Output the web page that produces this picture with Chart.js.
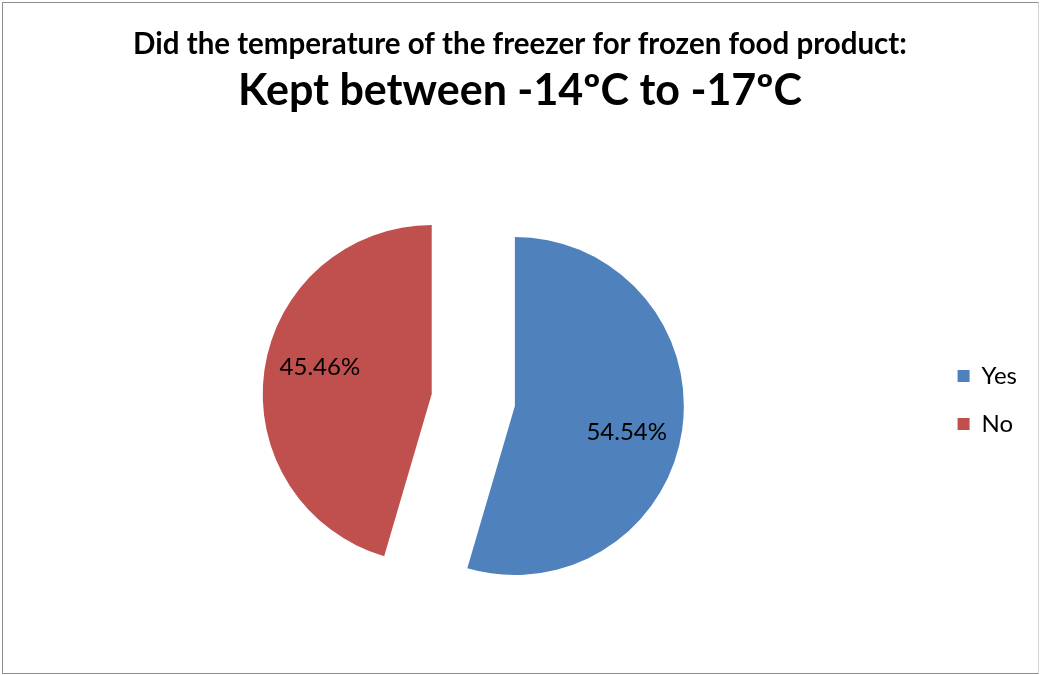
<!DOCTYPE html>
<html>
<head>
<meta charset="utf-8">
<script src="https://cdn.jsdelivr.net/npm/chart.js@4"></script>
<style>
  html, body { margin: 0; padding: 0; background: #fff; }
  #wrap { position: relative; width: 1040px; height: 675px; }
  #frame {
    position: absolute; left: 2px; top: 2px; width: 1037px; height: 672px;
    box-sizing: border-box; border: 1px solid #8e8e8e; border-right-color: #d4d4d4;
    pointer-events: none;
  }
</style>
</head>
<body>
<div id="wrap">
  <canvas id="pie" width="1040" height="675"></canvas>
  <div id="frame"></div>
</div>
<script>
// ── Data ───────────────────────────────────────────────────
const categories = ['Yes', 'No'];
const shares = [54.54, 45.46];
const shareLabels = ['54.54%', '45.46%'];
const sliceColors = ['#4F81BD', '#C0504D'];

const titleLine = 'Did the temperature of the freezer for frozen food product:';
const subtitleLine = 'Kept between -14ºC to -17ºC';

const FONT = 'Lato';
const EXPLODE = 168;     // arc offset option; slices move EXPLODE / 4 px
const LABEL_TURN = 0.09; // label nudged clockwise a little, like Excel's best fit

// Chart.js grows an exploded arc and trims its edges a bit;
// undo that so both slices keep the same radius and straight cuts.
const evenSlices = {
  id: 'evenSlices',
  afterDatasetUpdate(chart) {
    const meta = chart.getDatasetMeta(0);
    const base = meta.controller.outerRadius;
    meta.data.forEach(arc => {
      const shift = EXPLODE / 4;
      const fix = 1 - Math.sin(Math.min(Math.PI, arc.circumference));
      const grow = shift * fix;
      arc.outerRadius = base - grow;
      const trim = grow / Math.PI / base / 2;
      arc.startAngle -= trim;
      arc.endAngle += trim;
    });
  },
};

// percentage text inside each slice
const sliceLabels = {
  id: 'sliceLabels',
  afterDatasetsDraw(chart) {
    const { ctx } = chart;
    const meta = chart.getDatasetMeta(0);
    const base = meta.controller.outerRadius;
    ctx.save();
    ctx.font = `24px ${FONT}`;
    ctx.fillStyle = '#000';
    ctx.textAlign = 'center';
    ctx.textBaseline = 'middle';
    meta.data.forEach((arc, i) => {
      const mid = (arc.startAngle + arc.endAngle) / 2;
      const shift = EXPLODE / 4;
      const cx = arc.x + Math.cos(mid) * shift;
      const cy = arc.y + Math.sin(mid) * shift;
      const r = base * 0.68;
      ctx.fillText(shareLabels[i], cx + Math.cos(mid + LABEL_TURN) * r, cy + Math.sin(mid + LABEL_TURN) * r);
    });
    ctx.restore();
  },
};

new Chart(document.getElementById('pie').getContext('2d'), {
  type: 'pie',
  data: {
    labels: categories,
    datasets: [{
      data: shares,
      backgroundColor: sliceColors,
      borderWidth: 0,
      offset: EXPLODE,
    }],
  },
  options: {
    responsive: false,
    animation: false,
    events: [],
    layout: { padding: { top: 27, bottom: 22, left: 13, right: 13 } },
    plugins: {
      title: {
        display: true,
        text: titleLine,
        color: '#000',
        font: { family: FONT, size: 29.5, weight: 'bold', lineHeight: 1.2 },
        padding: { top: 0, bottom: 3 },
      },
      subtitle: {
        display: true,
        text: subtitleLine,
        color: '#000',
        font: { family: FONT, size: 43, weight: 'bold', lineHeight: 1.2 },
        padding: { top: 0, bottom: 30 },
      },
      legend: {
        position: 'right',
        fullSize: false,
        labels: {
          color: '#000',
          boxWidth: 12,
          boxHeight: 12,
          padding: 24,
          font: { family: FONT, size: 24 },
        },
      },
      tooltip: { enabled: false },
    },
  },
  plugins: [evenSlices, sliceLabels],
});
</script>
</body>
</html>
